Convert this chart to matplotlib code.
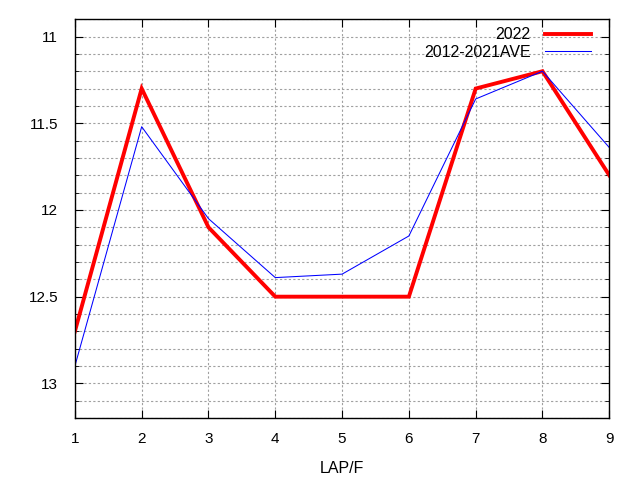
import numpy as np
import matplotlib
matplotlib.use("Agg")
import matplotlib.pyplot as plt
from matplotlib.ticker import MultipleLocator

plt.rcParams['font.family'] = ['Liberation Sans', 'DejaVu Sans']

laps = [1, 2, 3, 4, 5, 6, 7, 8, 9]
y2022 = [12.7, 11.3, 12.1, 12.5, 12.5, 12.5, 11.3, 11.2, 11.8]
ave = [12.9, 11.52, 12.05, 12.39, 12.37, 12.15, 11.36, 11.2, 11.64]

fig = plt.figure(figsize=(6.4, 4.8), dpi=100)
ax = fig.add_axes([0.117, 0.129, 0.835, 0.831])

ax.plot(laps, y2022, color="#ff0000", lw=2.8, label="2022", solid_joinstyle="miter")
ax.plot(laps, ave, color="#0000ff", lw=0.75, label="2012-2021AVE")

ax.set_xlim(1, 9)
ax.set_ylim(13.2, 10.9)
ax.xaxis.set_major_locator(MultipleLocator(1))
ax.yaxis.set_major_locator(MultipleLocator(0.5))
ax.yaxis.set_minor_locator(MultipleLocator(0.1))
ax.yaxis.set_major_formatter(plt.FuncFormatter(lambda v, p: "%g" % v))

ax.tick_params(which="both", direction="in", top=True, right=True, labelsize=11, color="black")
ax.tick_params(which="major", length=6)
ax.tick_params(which="minor", length=3)
ax.tick_params(axis="x", pad=10)
ax.tick_params(axis="y", pad=12)

ax.grid(True, which="major", axis="x", color="#a0a0a0", ls=(0, (2, 2)), lw=0.8)
ax.grid(True, which="both", axis="y", color="#a0a0a0", ls=(0, (2, 2)), lw=0.8)

for s in ax.spines.values():
    s.set_linewidth(1.0)

ax.set_xlabel("LAP/F", fontsize=11.5, labelpad=11)

ax.legend(loc="upper right", bbox_to_anchor=(0.966, 0.98), frameon=False,
          markerfirst=False, fontsize=11.5, handlelength=2.9, handletextpad=0.9,
          borderaxespad=0, borderpad=0, labelspacing=0.15)

fig.savefig("out.png", dpi=100)
